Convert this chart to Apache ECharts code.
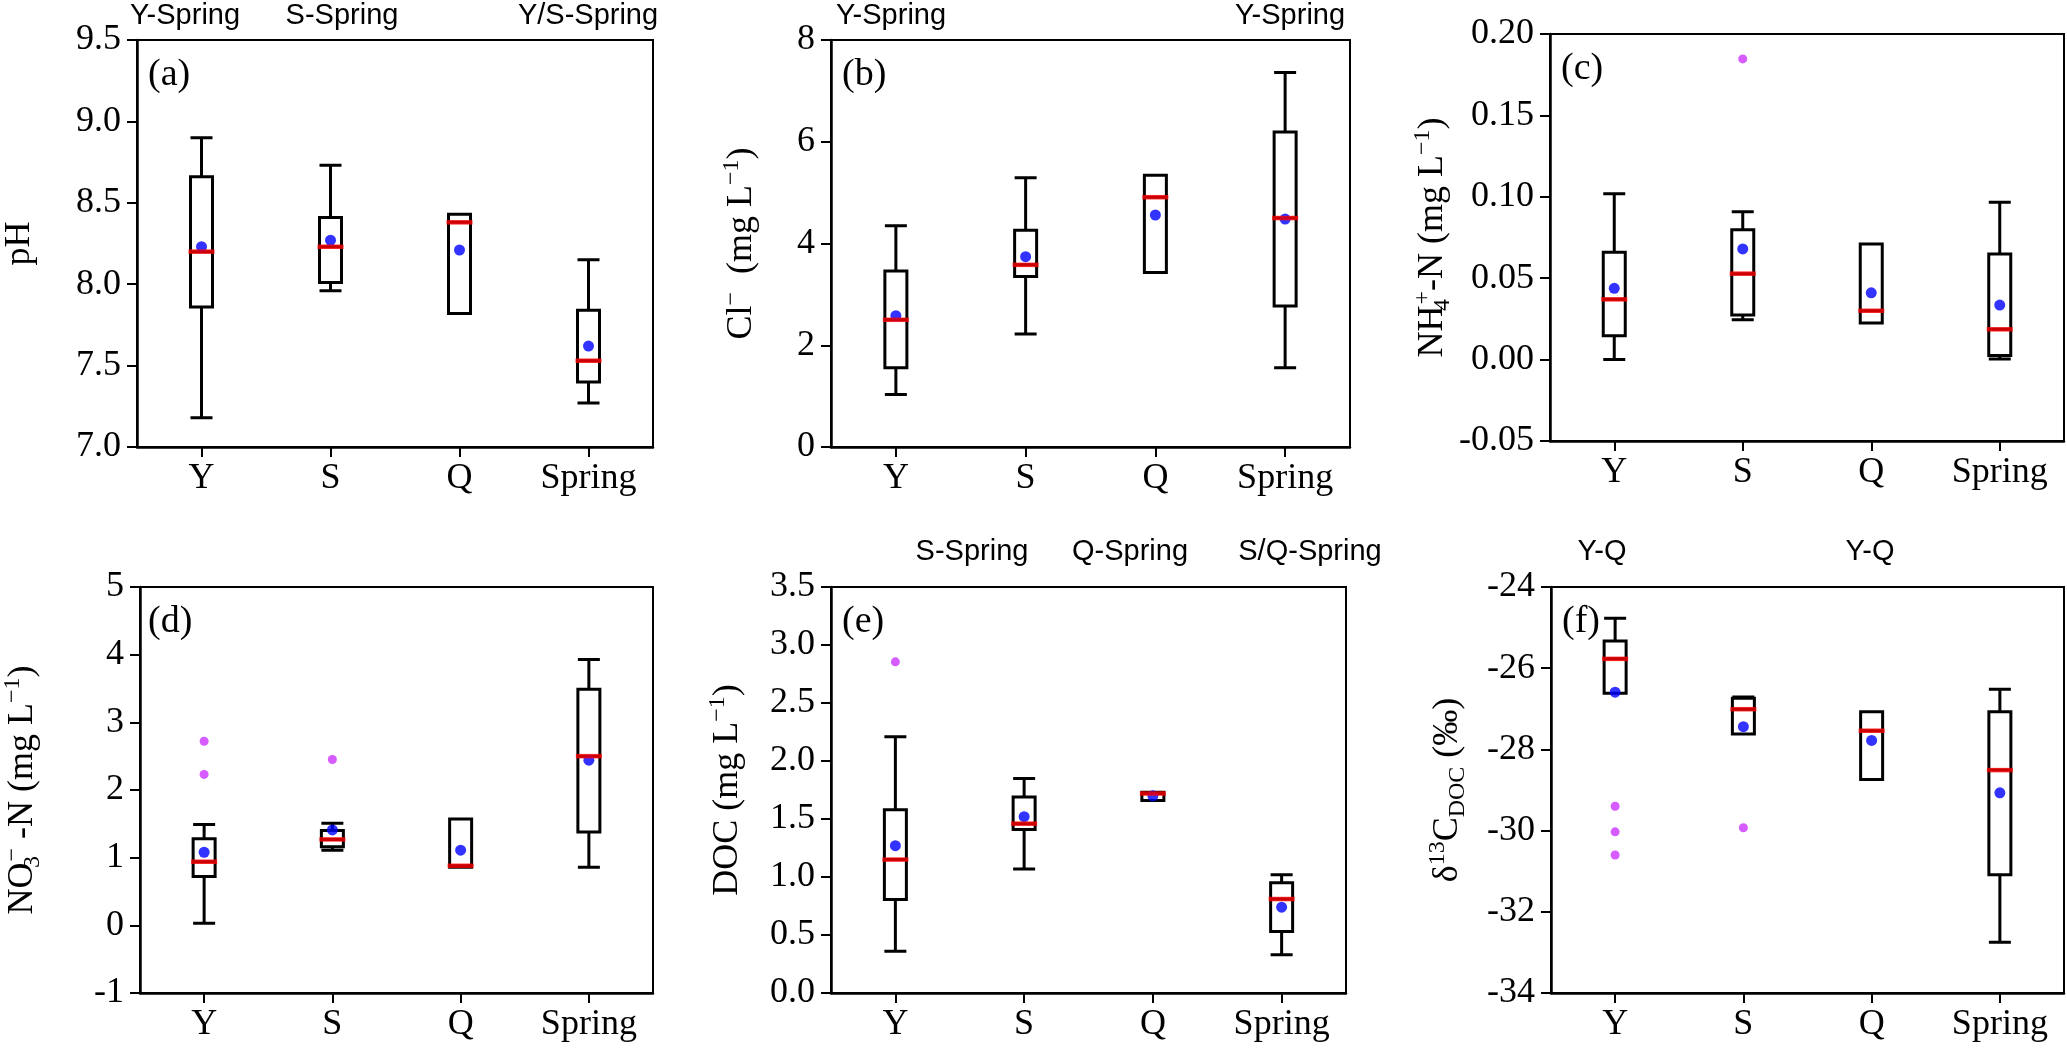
<!DOCTYPE html>
<html>
<head>
<meta charset="utf-8">
<script src="https://cdn.jsdelivr.net/npm/echarts@6/dist/echarts.min.js"></script>
<style>
html,body{margin:0;padding:0;background:#fff;}
#chart{width:2067px;height:1049px;}
</style>
</head>
<body>
<div id="chart"></div>
<script>
// ---------- data ----------
const categories = ['Y', 'S', 'Q', 'Spring'];

// box data: [min, Q1, median, Q3, max]
const phBox = [[7.18, 7.86, 8.20, 8.66, 8.90], [7.96, 8.01, 8.23, 8.41, 8.73], [7.82, 7.82, 8.38, 8.43, 8.43], [7.27, 7.40, 7.53, 7.84, 8.15]];
const phMean = [8.23, 8.27, 8.21, 7.62];
const phOut = [];

const clBox = [[1.03, 1.56, 2.50, 3.46, 4.35], [2.22, 3.35, 3.58, 4.26, 5.29], [3.43, 3.43, 4.91, 5.34, 5.34], [1.56, 2.77, 4.50, 6.19, 7.36]];
const clMean = [2.58, 3.74, 4.56, 4.48];
const clOut = [];

const nhBox = [[0.000, 0.0147, 0.037, 0.066, 0.1018], [0.0245, 0.0274, 0.0528, 0.0798, 0.0908], [0.0225, 0.0225, 0.030, 0.071, 0.071], [0.0004, 0.0025, 0.0186, 0.0648, 0.0967]];
const nhMean = [0.0438, 0.068, 0.041, 0.0335];
const nhOut = [[1, 0.1847]];

const noBox = [[0.03, 0.72, 0.94, 1.28, 1.49], [1.11, 1.16, 1.27, 1.40, 1.51], [0.86, 0.86, 0.88, 1.57, 1.57], [0.86, 1.38, 2.50, 3.49, 3.93]];
const noMean = [1.08, 1.41, 1.11, 2.44];
const noOut = [[0, 2.72], [0, 2.23], [1, 2.45]];

const docBox = [[0.36, 0.805, 1.15, 1.58, 2.21], [1.07, 1.41, 1.46, 1.69, 1.85], [1.66, 1.66, 1.72, 1.73, 1.73], [0.33, 0.53, 0.81, 0.95, 1.02]];
const docMean = [1.27, 1.52, 1.70, 0.74];
const docOut = [[0, 2.855]];

const cBox = [[-26.62, -26.62, -25.77, -25.33, -24.77], [-27.62, -27.62, -27.01, -26.74, -26.71], [-28.74, -28.74, -27.54, -27.07, -27.07], [-32.75, -31.09, -28.51, -27.07, -26.52]];
const cMean = [-26.59, -27.44, -27.78, -29.07];
const cOut = [[0, -29.40], [0, -30.03], [0, -30.60], [1, -29.93]];

// y axis ranges: [min, max, interval, decimals]
const axisRanges = [[7.0, 9.5, 0.5, 1], [0, 8, 2, 0], [-0.05, 0.20, 0.05, 2], [-1, 5, 1, 0], [0, 3.5, 0.5, 1], [-34, -24, 2, 0]];

const panelLabels = ['(a)', '(b)', '(c)', '(d)', '(e)', '(f)'];
const axisTitles = [
  '{t|pH}',
  '{t|Cl}{sup|−}{t|  (mg L}{sup|−1}{t|)}',
  '{t|NH}{subz|4}{sup|+}{t|-N (mg L}{sup|−1}{t|)}',
  '{t|NO}{subz|3}{sup|−}{t| -N (mg L}{sup|−1}{t|)}',
  '{t|DOC (mg L}{sup|−1}{t|)}',
  '{t|δ}{sup|13}{t|C}{sub|DOC}{t| (‰)}'
];

// significance annotations: text
const annotTexts = ['Y-Spring', 'S-Spring', 'Y/S-Spring', 'Y-Spring', 'Y-Spring', 'S-Spring', 'Q-Spring', 'S/Q-Spring', 'Y-Q', 'Y-Q'];

// ---------- layout ----------
const grids = [
  {left: 137, top: 40, width: 516, height: 407},
  {left: 831, top: 40, width: 519, height: 407},
  {left: 1550, top: 34, width: 514, height: 407},
  {left: 137, top: 587, width: 516, height: 406},
  {left: 831, top: 587, width: 515, height: 406},
  {left: 1551, top: 587, width: 513, height: 406}
];
const nameGaps = [95, 67, 95, 95, 81, 81];
const annotPos = [[185, 16], [342, 16], [588, 16], [891, 16], [1290, 16], [972, 552], [1130, 552], [1310, 552], [1602, 552], [1870, 552]];

const SERIF = "'Liberation Serif', 'Times New Roman', serif";
const SANS = "'Liberation Sans', Arial, sans-serif";

const boxes = [phBox, clBox, nhBox, noBox, docBox, cBox];
const means = [phMean, clMean, nhMean, noMean, docMean, cMean];
const outs = [phOut, clOut, nhOut, noOut, docOut, cOut];

const richStyles = {
  t: {fontFamily: SERIF, fontSize: 36, color: '#000', lineHeight: 44},
  sup: {fontFamily: SERIF, fontSize: 24, color: '#000', lineHeight: 24, verticalAlign: 'top'},
  sub: {fontFamily: SERIF, fontSize: 24, color: '#000', lineHeight: 24, verticalAlign: 'bottom'},
  subz: {fontFamily: SERIF, fontSize: 24, color: '#000', lineHeight: 24, verticalAlign: 'bottom', width: 1, align: 'left'}
};

const option = {
  animation: false,
  backgroundColor: '#fff',
  grid: grids.map(g => Object.assign({show: true, borderColor: '#000', borderWidth: 2, backgroundColor: 'transparent'}, g)),
  xAxis: grids.map((g, i) => ({
    type: 'category', gridIndex: i, data: categories, boundaryGap: true,
    axisLine: {show: true, onZero: false, lineStyle: {color: '#000', width: 2.5}},
    axisTick: {show: true, alignWithLabel: true, length: 10, inside: false, lineStyle: {color: '#000', width: 2}},
    axisLabel: {fontFamily: SERIF, fontSize: 36, color: '#000', margin: 14},
    splitLine: {show: false}
  })),
  yAxis: grids.map((g, i) => {
    const r = axisRanges[i];
    return {
      type: 'value', gridIndex: i, min: r[0], max: r[1], interval: r[2],
      name: axisTitles[i], nameLocation: 'middle', nameRotate: 90, nameGap: nameGaps[i],
      nameTextStyle: {fontFamily: SERIF, fontSize: 36, color: '#000', rich: richStyles},
      axisLine: {show: true, onZero: false, lineStyle: {color: '#000', width: 2.5}},
      axisTick: {show: true, length: 10, inside: false, lineStyle: {color: '#000', width: 2}},
      axisLabel: {fontFamily: SERIF, fontSize: 36, color: '#000', margin: 16,
        formatter: v => v.toFixed(r[3])},
      splitLine: {show: false}
    };
  }),
  series: [],
  graphic: []
};

for (let i = 0; i < 6; i++) {
  option.series.push({
    type: 'boxplot', xAxisIndex: i, yAxisIndex: i, data: boxes[i],
    boxWidth: [22, 22], z: 2,
    itemStyle: {color: '#fff', borderColor: '#000', borderWidth: 3},
    emphasis: {disabled: true}
  });
  option.series.push({
    type: 'scatter', xAxisIndex: i, yAxisIndex: i, z: 4,
    data: means[i].map((v, k) => [k, v]),
    symbol: 'circle', symbolSize: 11, itemStyle: {color: '#0000ff'}
  });
  option.series.push({
    type: 'scatter', xAxisIndex: i, yAxisIndex: i, z: 5,
    data: boxes[i].map((b, k) => [k, b[2]]),
    symbol: 'rect', symbolSize: [26, 4.5], itemStyle: {color: '#ff0000'}
  });
  option.series.push({
    type: 'scatter', xAxisIndex: i, yAxisIndex: i, z: 4,
    data: outs[i],
    symbol: 'circle', symbolSize: 9, itemStyle: {color: '#cc33ff'}
  });
  option.graphic.push({
    type: 'text', x: grids[i].left + 11, y: grids[i].top + 16, z: 10,
    style: {text: panelLabels[i], fontFamily: SERIF, fontSize: 38, fill: '#000', textAlign: 'left', textVerticalAlign: 'top'}
  });
}
annotTexts.forEach((t, k) => {
  option.graphic.push({
    type: 'text', x: annotPos[k][0], y: annotPos[k][1], z: 10,
    style: {text: t, fontFamily: SANS, fontSize: 29, fill: '#000', textAlign: 'center', textVerticalAlign: 'middle'}
  });
});

const chart = echarts.init(document.getElementById('chart'), null, {renderer: 'canvas'});
chart.setOption(option);
</script>
</body>
</html>
